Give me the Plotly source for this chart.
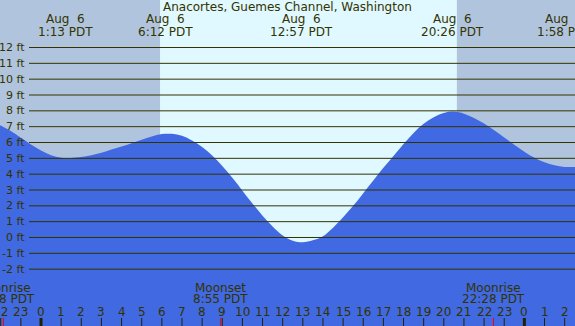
import plotly.graph_objects as go

# ---- data ----
title = "Anacortes, Guemes Channel, Washington"

tide_hours = [-2.5, -2, -1.5, -1, -0.5, 0, 0.5, 1, 1.5, 2, 2.5, 3, 3.5, 4, 4.5, 5, 5.5, 6, 6.5,
              7, 7.5, 8, 8.5, 9, 9.5, 10, 10.5, 11, 11.5, 12, 12.5, 13, 13.5, 14, 14.5, 15,
              15.5, 16, 16.5, 17, 17.5, 18, 18.5, 19, 19.5, 20, 20.5, 21, 21.5, 22, 22.5, 23,
              23.5, 24, 24.5, 25, 25.5, 26, 26.5, 27]
tide_ft = [7.4, 7.07, 6.72, 6.3, 5.88, 5.5, 5.2, 5.03, 5.02, 5.08, 5.2, 5.35, 5.55, 5.75, 5.96,
           6.18, 6.38, 6.53, 6.55, 6.42, 6.12, 5.72, 5.18, 4.52, 3.77, 2.96, 2.15, 1.38, 0.7, 0.13,
           -0.2, -0.3, -0.18, 0.08, 0.62, 1.28, 2.0, 2.8, 3.6, 4.4, 5.15, 5.9, 6.6, 7.18, 7.6,
           7.87, 7.95, 7.82, 7.55, 7.2, 6.78, 6.32, 5.86, 5.42, 5.03, 4.75, 4.56, 4.46, 4.46, 4.5]

event_hours = [1.22, 6.2, 12.95, 20.43, 25.97]
event_dates = ["Aug\u00a0\u00a06", "Aug\u00a0\u00a06", "Aug\u00a0\u00a06", "Aug\u00a0\u00a06", "Aug\u00a0\u00a07"]
event_times = ["1:13 PDT", "6:12 PDT", "12:57 PDT", "20:26 PDT", "1:58 PDT"]

moon_hours = [-1.867, 8.917, 22.467]
moon_names = ["Moonrise", "Moonset", "Moonrise"]
moon_times = ["22:08 PDT", "8:55 PDT", "22:28 PDT"]

night_spans = [(-2.1, 5.91), (20.65, 26.6)]

hour_ticks = list(range(-2, 27))
hour_labels = [str(h % 24) for h in hour_ticks]

level_ticks = list(range(-2, 13))
level_labels = [f"{v} ft" for v in level_ticks]

# ---- style ----
W, H = 575, 326
X_RANGE = [-2.036, 26.514]
Y_RANGE = [-5.59, 15.0]
DAY = "#e0f8ff"
NIGHT = "#b0c4de"
WATER = "#4169e1"
INK = "#333300"
FONT = "DejaVu Sans"

def py(pix):
    return 1 - pix / H

fig = go.Figure()
fig.add_trace(go.Scatter(x=tide_hours, y=[Y_RANGE[0] - 1] * len(tide_hours), mode="lines",
                         line=dict(width=0), hoverinfo="skip", showlegend=False))
fig.add_trace(go.Scatter(x=tide_hours, y=tide_ft, mode="lines", line=dict(width=0, color=WATER, shape="spline"),
                         fill="tonexty", fillcolor=WATER, showlegend=False))

shapes = []
for a, b in night_spans:
    shapes.append(dict(type="rect", xref="x", yref="paper", x0=a, x1=b, y0=0, y1=1,
                       fillcolor=NIGHT, line=dict(width=0), layer="below"))
for v in level_ticks:
    shapes.append(dict(type="line", xref="paper", yref="y", x0=29 / W, x1=1, y0=v, y1=v,
                       line=dict(color=INK, width=1), layer="above"))
for h in hour_ticks:
    wid = 3 if h % 24 == 0 else 1
    shapes.append(dict(type="line", xref="x", yref="paper", x0=h, x1=h, y0=0, y1=8 / H,
                       line=dict(color="#222200", width=wid), layer="above"))
for h in moon_hours:
    shapes.append(dict(type="line", xref="x", yref="paper", x0=h, x1=h, y0=0, y1=8 / H,
                       line=dict(color="#ff0000", width=1), layer="above"))

ann = []
ann.append(dict(text=title, xref="paper", yref="paper", x=0.5, y=py(7.5), showarrow=False,
                xanchor="center", yanchor="middle", font=dict(family=FONT, size=12, color=INK)))
for h, d, t in zip(event_hours, event_dates, event_times):
    ann.append(dict(text=d, xref="x", yref="paper", x=h, y=py(19.5), showarrow=False,
                    xanchor="center", yanchor="middle", font=dict(family=FONT, size=12, color=INK)))
    ann.append(dict(text=t, xref="x", yref="paper", x=h, y=py(31.5), showarrow=False,
                    xanchor="center", yanchor="middle", font=dict(family=FONT, size=12, color=INK)))
for h, n, t in zip(moon_hours, moon_names, moon_times):
    ann.append(dict(text=n, xref="x", yref="paper", x=h, y=py(287.5), showarrow=False,
                    xanchor="center", yanchor="middle", font=dict(family=FONT, size=12, color=INK)))
    ann.append(dict(text=t, xref="x", yref="paper", x=h, y=py(298.5), showarrow=False,
                    xanchor="center", yanchor="middle", font=dict(family=FONT, size=12, color=INK)))
for h, lab in zip(hour_ticks, hour_labels):
    ann.append(dict(text=lab, xref="x", yref="paper", x=h, y=py(311.5), showarrow=False,
                    xanchor="center", yanchor="middle", font=dict(family=FONT, size=12, color=INK)))
for v, lab in zip(level_ticks, level_labels):
    ann.append(dict(text=lab, xref="paper", yref="y", x=27 / W, y=v, showarrow=False,
                    xanchor="right", yanchor="middle", font=dict(family=FONT, size=11, color=INK)))

fig.update_layout(
    width=W, height=H, margin=dict(l=0, r=0, t=0, b=0),
    paper_bgcolor=DAY, plot_bgcolor=DAY,
    xaxis=dict(range=X_RANGE, visible=False, fixedrange=True),
    yaxis=dict(range=Y_RANGE, visible=False, fixedrange=True),
    shapes=shapes, annotations=ann, showlegend=False,
)
fig.write_html("out.html", config={"displayModeBar": False},
               post_script="document.body.style.margin='0';document.body.style.padding='0';document.documentElement.style.overflow='hidden';")
